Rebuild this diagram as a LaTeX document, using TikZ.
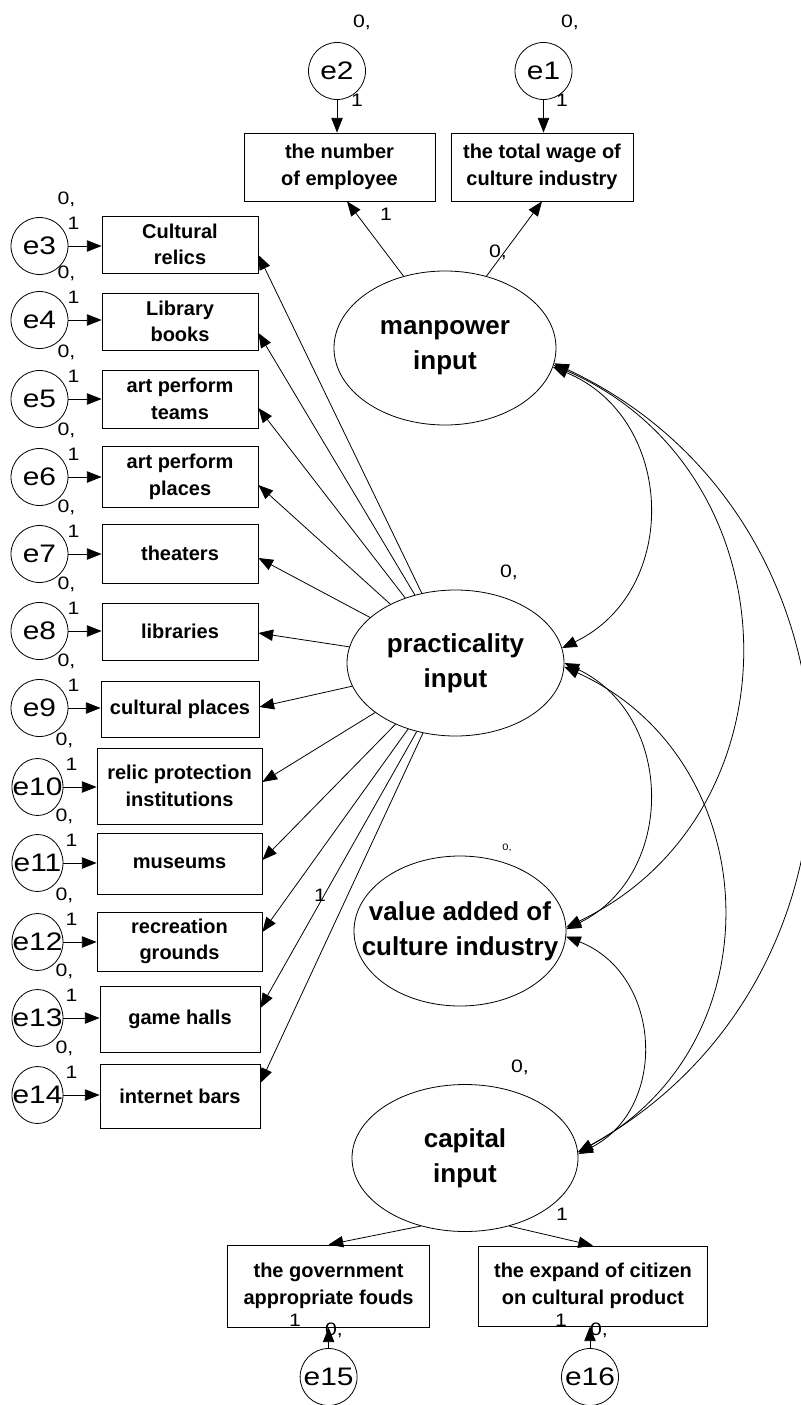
\documentclass[tikz,border=0pt]{standalone}
\usepackage{fontspec}
\setmainfont{Liberation Sans}
\newfontfamily\widefont[FakeStretch=1.18]{Liberation Sans}
\usetikzlibrary{arrows.meta,shapes.geometric,calc}
\begin{document}
\begin{tikzpicture}[x=0.75pt,y=-0.75pt,
  >={Triangle[length=11pt,width=8.5pt]},
  every path/.style={line width=0.6pt},
  obs/.style={draw, rectangle, inner sep=0pt, align=center,
    font=\bfseries\fontsize{15}{20}\selectfont},
  lat/.style={draw, ellipse, inner xsep=-30pt, inner ysep=-12pt, align=center,
    font=\bfseries\fontsize{19.5}{26}\selectfont},
  err/.style={draw, ellipse, minimum width=42.75pt, minimum height=42.75pt,
    inner xsep=-12pt, inner ysep=-8pt, font=\widefont\fontsize{19}{19}\selectfont},
  errn/.style={err, minimum width=38.25pt},
  num/.style={inner sep=0pt, font=\widefont\fontsize{13.5}{13.5}\selectfont},
]
\fill[white] (0,0) rectangle (800,1405);
\useasboundingbox (0,0) rectangle (800,1405);

% latent variables
\node[lat, minimum width=166.5pt, minimum height=115.5pt] (man) at (445,348) {manpower\\input};
\node[lat, minimum width=162.75pt, minimum height=109.5pt] (prac) at (455.5,663) {practicality\\input};
\node[lat, minimum width=159pt, minimum height=112.5pt] (val) at (460,931) {value added of\\culture industry};
\node[lat, minimum width=169.5pt, minimum height=110.25pt] (cap) at (465,1158) {capital\\input};

% indicators of manpower input
\node[obs, minimum width=143.25pt, minimum height=51pt] (b1) at (339.5,167) {the number\\of employee};
\node[obs, minimum width=136.5pt, minimum height=51pt] (b2) at (542,167) {the total wage of\\culture industry};

% indicators of practicality input
\node[obs, minimum width=117pt, minimum height=42.75pt] (c3) at (180,244.5) {Cultural\\relics};
\node[obs, minimum width=117pt, minimum height=42.75pt] (c4) at (180,321.5) {Library\\books};
\node[obs, minimum width=117pt, minimum height=43.5pt] (c5) at (180,399) {art perform\\teams};
\node[obs, minimum width=117pt, minimum height=45.75pt] (c6) at (180,476.5) {art perform\\places};
\node[obs, minimum width=117pt, minimum height=44.25pt] (c7) at (180,553.5) {theaters};
\node[obs, minimum width=117pt, minimum height=42.75pt] (c8) at (180,631.5) {libraries};
\node[obs, minimum width=118.5pt, minimum height=42pt] (c9) at (180,709) {cultural places};
\node[obs, minimum width=123.75pt, minimum height=57pt] (c10) at (179.5,786) {relic protection\\institutions};
\node[obs, minimum width=123.75pt, minimum height=45.75pt] (c11) at (179.5,863.5) {museums};
\node[obs, minimum width=123.75pt, minimum height=44.25pt] (c12) at (179.5,941.5) {recreation\\grounds};
\node[obs, minimum width=120pt, minimum height=49.5pt] (c13) at (180,1019) {game halls};
\node[obs, minimum width=120pt, minimum height=48pt] (c14) at (180,1096) {internet bars};

% indicators of capital input
\node[obs, minimum width=151.5pt, minimum height=61.5pt] (g1) at (328.6,1286) {the government\\appropriate fouds};
\node[obs, minimum width=172.2pt, minimum height=60pt] (g2) at (593,1286) {the expand of citizen\\on cultural product};

% error terms, top and bottom
\node[err] (e2) at (337,71) {e2};
\node[err] (e1) at (543.5,71) {e1};
\node[err] (e15) at (328.6,1377) {e15};
\node[err] (e16) at (590,1377) {e16};
\node[num] (z2) at (362,22) {0,};
\node[num] (z1) at (570,22) {0,};
\node[num] (w2) at (357,100) {1};
\node[num] (w1) at (562,100) {1};
\node[num] (w15) at (295,1320) {1};
\node[num] (z15) at (334,1330) {0,};
\node[num] (w16) at (561,1320) {1};
\node[num] (z16) at (599,1330) {0,};
\draw[->] (e2.south) -- (e2.south |- b1.north);
\draw[->] (e1.south) -- (e1.south |- b2.north);
\draw[->] (e15.north) -- (e15.north |- g1.south);
\draw[->] (e16.north) -- (e16.north |- g2.south);

% error terms of the practicality indicators
\foreach \i/\xx/\yy/\sty in {3/39.5/246/err,4/39.5/320/err,5/39.5/399/err,6/39.5/477/err,
    7/39.5/554/err,8/39.5/631/err,9/39.5/708/err,10/37.5/787/errn,11/37.5/863/errn,
    12/37.5/942/errn,13/37.5/1018/errn,14/37.5/1095/errn}{
  \node[\sty] (e\i) at (\xx,\yy) {e\i};
  \node[num] (z\i) at ($(e\i.center)+(27,-47)$) {0,};
  \node[num] (w\i) at ($(e\i.center)+(34,-23)$) {1};
  \draw[->] (e\i.east) -- (e\i.east -| c\i.west);
}

% loadings
\draw[->] (man.120.5) -- ($(b1.south)+(7.5,0)$);
\draw[->] (man.60.8) -- ($(b2.south)+(0,0)$);
\node[num] (l1) at (386,214) {1};
\node[num] (l2) at (498,252) {0,};

\foreach \i/\dy in {3/10.5,4/11.5,5/9,6/8.5,7/4.5,8/1.5,9/-2,10/-4,11/-3.5,12/-9.5,13/-11,14/-13}{
  \draw[->] (prac) -- ($(c\i.east)+(0,\dy)$);
}
\node[num] (l13) at (320,895) {1};

\draw[->] (cap.-123) -- (g1.north);
\draw[->] (cap.-57) -- (g2.north);
\node[num] (l16) at (562,1214) {1};

% variances
\node[num] (vp) at (509,572) {0,};
\node[inner sep=0pt, font=\widefont\fontsize{7}{7}\selectfont] (vv) at (507,848) {0,};
\node[num] (vc) at (520,1067) {0,};

% covariances
\draw[<->] (man.-10) .. controls (676,418) and (681,591) .. (prac.8);
\draw[<->] (man.-9) .. controls (796,470) and (805,813) .. (val.2);
\draw[<->] (man.-8) .. controls (881,516) and (897,975) .. (cap.3);
\draw[<->] (prac.0) .. controls (675,715) and (677,875) .. (val.1);
\draw[<->] (prac.-2) .. controls (767,759) and (779,1044) .. (cap.3);
\draw[<->] (val.-3) .. controls (662,974) and (669,1108) .. (cap.2);
\end{tikzpicture}
\end{document}
